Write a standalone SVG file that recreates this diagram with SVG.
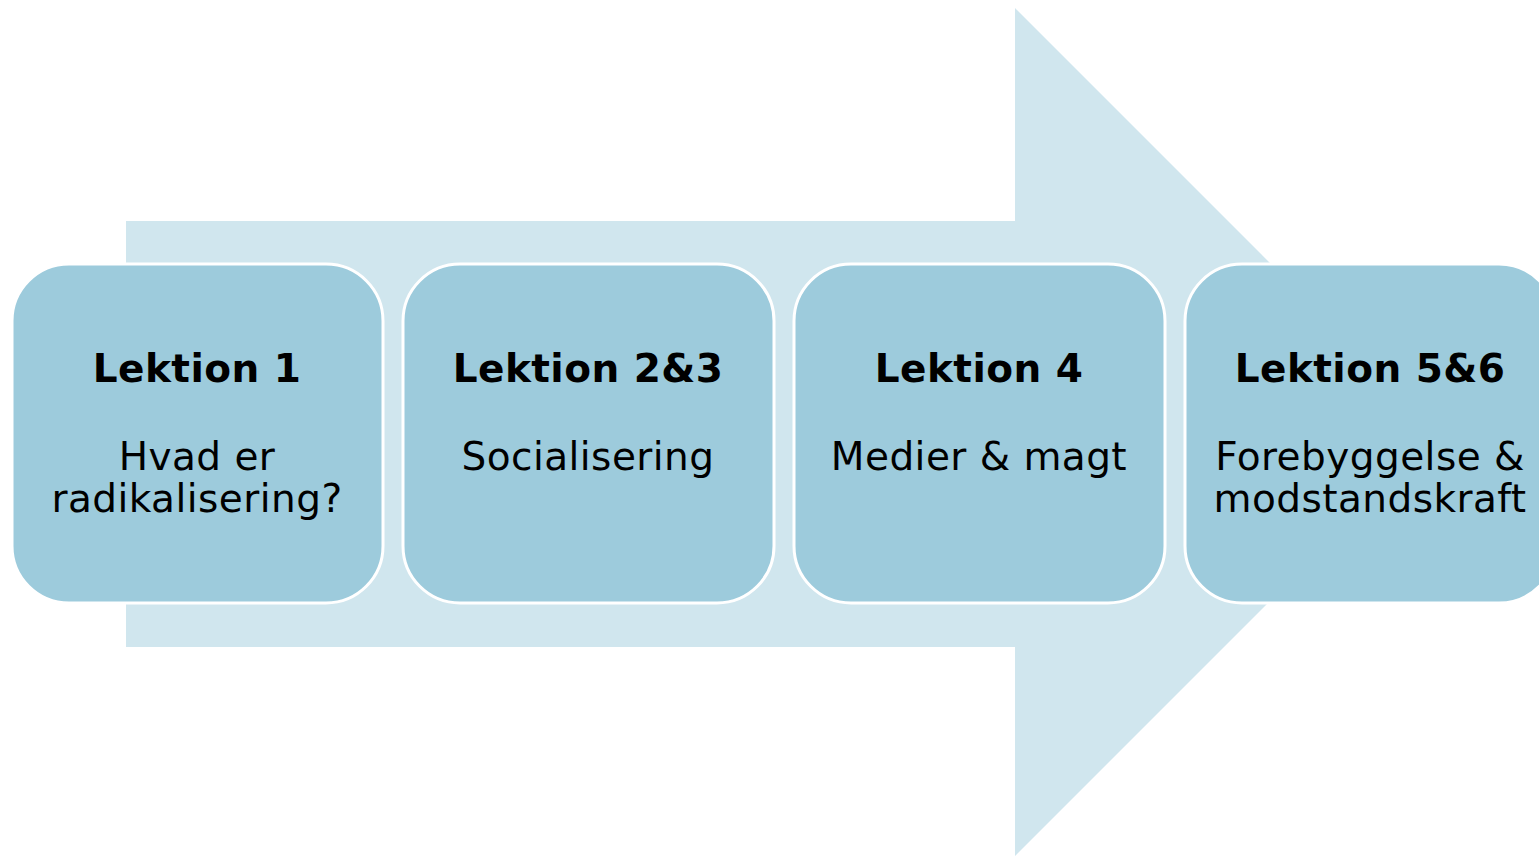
<svg xmlns="http://www.w3.org/2000/svg" width="1539" height="856" viewBox="0 0 1539 856">
<style>
.box{fill:#9dcbdc;stroke:#ffffff;stroke-width:3}
.t{font-family:"DejaVu Sans",Verdana,sans-serif;font-size:39px;fill:#000000;text-anchor:middle;letter-spacing:0.45px}
.b{font-weight:bold}
</style>
<rect width="1539" height="856" fill="#ffffff"/>
<g id="arrow">
<polygon points="126,221 1015,221 1015,8 1439,432 1015,856 1015,647 126,647" fill="#d0e6ee"/>
</g>
<g id="connectors"></g>
<g id="node1">
<rect class="box" x="12" y="264" width="371" height="339" rx="57" ry="57"/>
<text class="t b" x="197" y="382">Lektion 1</text>
<text class="t" x="197" y="470">Hvad er</text>
<text class="t" x="197" y="512">radikalisering?</text>
</g>
<g id="node2">
<rect class="box" x="403" y="264" width="371" height="339" rx="57" ry="57"/>
<text class="t b" x="588" y="382">Lektion 2&amp;3</text>
<text class="t" x="588" y="470">Socialisering</text>
</g>
<g id="node3">
<rect class="box" x="794" y="264" width="371" height="339" rx="57" ry="57"/>
<text class="t b" x="979" y="382">Lektion 4</text>
<text class="t" x="979" y="470">Medier &amp; magt</text>
</g>
<g id="node4">
<rect class="box" x="1185" y="264" width="371" height="339" rx="57" ry="57"/>
<text class="t b" x="1370" y="382">Lektion 5&amp;6</text>
<text class="t" x="1370" y="470">Forebyggelse &amp;</text>
<text class="t" x="1370" y="512">modstandskraft</text>
</g>
</svg>
